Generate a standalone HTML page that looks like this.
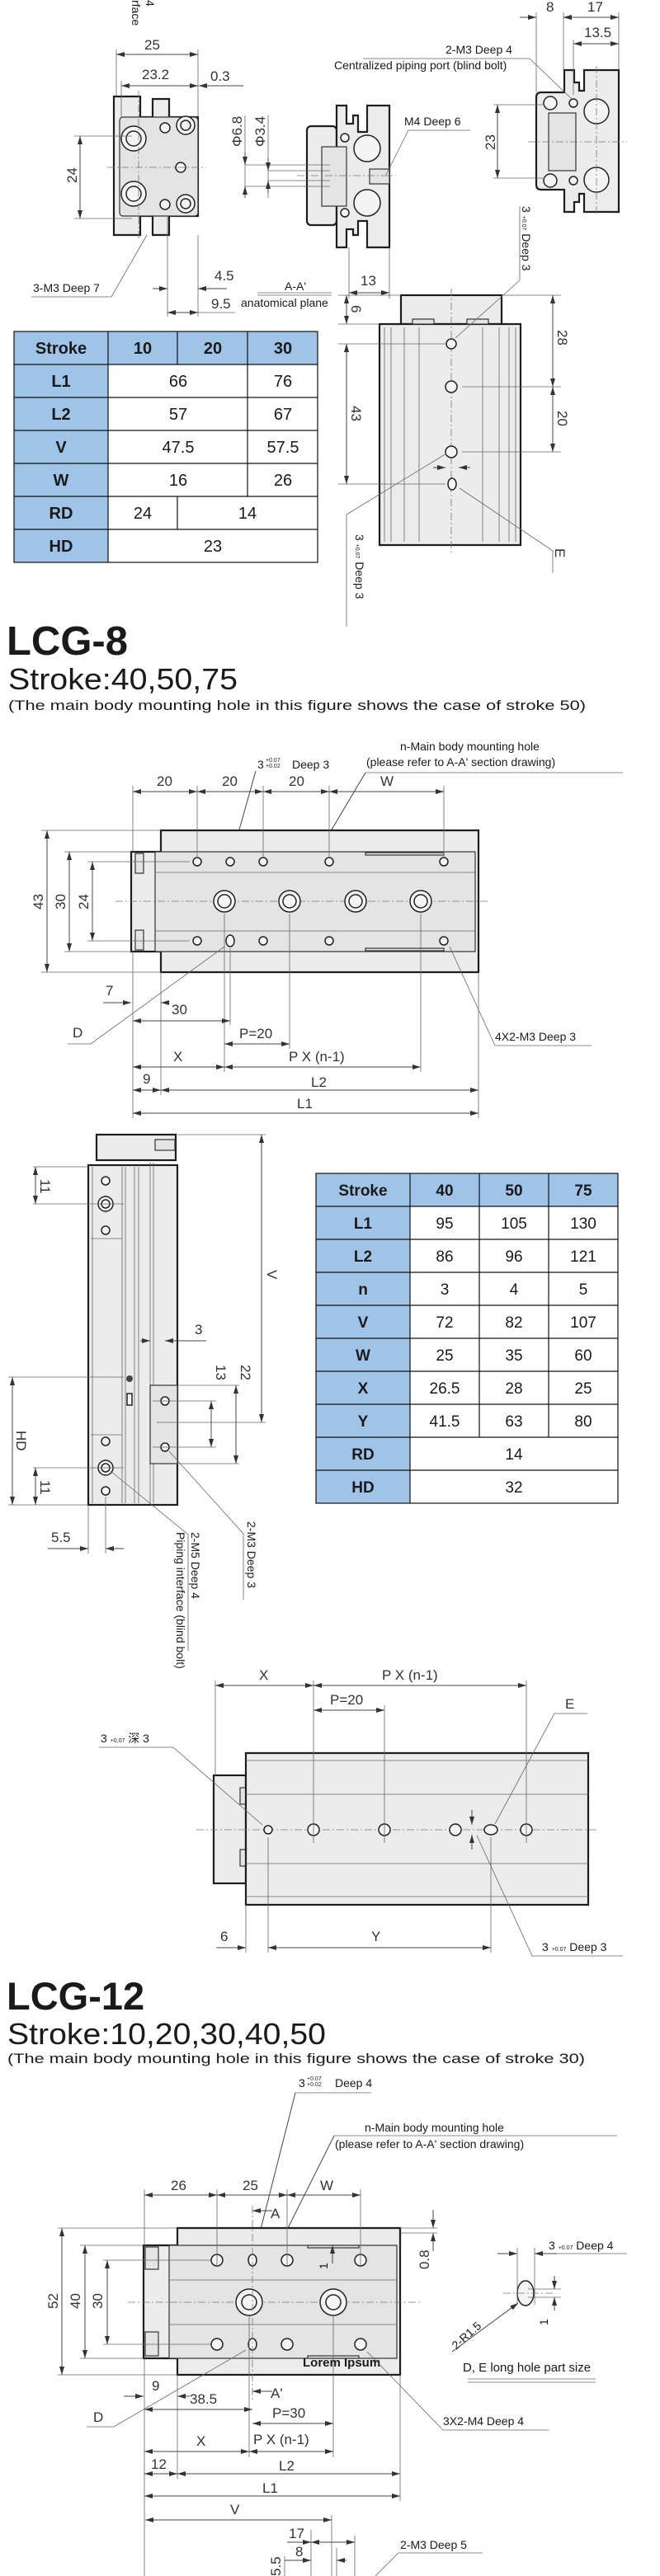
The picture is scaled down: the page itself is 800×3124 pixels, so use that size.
<!DOCTYPE html>
<html><head><meta charset="utf-8"><style>
html,body{margin:0;padding:0;background:#fff}
svg{display:block}
text{font-family:"Liberation Sans","Noto Sans CJK SC",sans-serif;fill:#1a1a1a}
.d{stroke:#444;stroke-width:1;fill:none;marker-start:url(#a);marker-end:url(#a)}
.e{stroke:#444;stroke-width:1;fill:none;marker-end:url(#a)}
.t{stroke:#666;stroke-width:.8;fill:none}
.b{fill:#ececec;stroke:#1e1e1e;stroke-width:2.2}
.i{fill:#e4e4e4;stroke:#333;stroke-width:1.2}
.c{stroke:#777;stroke-width:.8;stroke-dasharray:9 3 2 3;fill:none}
.h{fill:#f4f4f4;stroke:#222;stroke-width:1.5}
.l{font-size:17px;fill:#333}
.s{font-size:14px}
.tb{stroke:#111;stroke-width:1.2}
</style></head><body>
<svg width="800" height="3124" viewBox="0 0 800 3124" xmlns="http://www.w3.org/2000/svg">
<defs><marker id="a" viewBox="0 0 10 6" refX="10" refY="3" markerWidth="10" markerHeight="6" markerUnits="userSpaceOnUse" orient="auto-start-reverse"><path d="M0,0L10,3L0,6z" fill="#333"/></marker></defs>

<!-- ===== Section 1 ===== -->
<text transform="translate(160,0) rotate(90)" class="s">rface</text>
<text transform="translate(177,0) rotate(90)" class="s">4</text>

<!-- left end view -->
<path class="b" d="M138,117 H170 V142 H185 V120 H205 V142 H240 V262 H205 V285 H185 V262 H170 V285 H138 Z"/>
<rect class="i" x="145" y="142" width="95" height="120" rx="4"/>
<circle class="h" cx="162" cy="168" r="15"/><circle class="h" cx="162" cy="168" r="9"/>
<circle class="h" cx="162" cy="235" r="15"/><circle class="h" cx="162" cy="235" r="9"/>
<circle class="h" cx="225" cy="152" r="11"/><circle class="h" cx="225" cy="152" r="6"/>
<circle class="h" cx="225" cy="247" r="11"/><circle class="h" cx="225" cy="247" r="6"/>
<circle class="h" cx="200" cy="155" r="6"/><circle class="h" cx="219" cy="203" r="6"/><circle class="h" cx="200" cy="248" r="6"/>
<line class="c" x1="130" y1="203" x2="250" y2="203"/><line class="c" x1="168" y1="110" x2="168" y2="290"/>
<line class="t" x1="141" y1="60" x2="141" y2="117"/><line class="t" x1="240" y1="60" x2="240" y2="142"/><line class="t" x1="147" y1="98" x2="147" y2="142"/>
<line class="d" x1="141" y1="66" x2="240" y2="66"/><text x="175" y="60" class="l">25</text>
<line class="d" x1="147" y1="104" x2="240" y2="104"/><text x="172" y="96" class="l">23.2</text>
<line class="e" x1="295" y1="104" x2="241" y2="104"/><text x="255" y="98" class="l">0.3</text>
<line class="t" x1="90" y1="165" x2="160" y2="165"/><line class="t" x1="90" y1="265" x2="160" y2="265"/>
<line class="d" x1="97" y1="165" x2="97" y2="265"/><text transform="translate(93,222) rotate(-90)" class="l">24</text>
<line class="t" x1="203" y1="262" x2="203" y2="384"/><line class="t" x1="240" y1="285" x2="240" y2="384"/>
<line class="e" x1="185" y1="350" x2="203" y2="350"/><line class="e" x1="275" y1="350" x2="240" y2="350"/><text x="260" y="340" class="l">4.5</text>
<line class="d" x1="203" y1="379" x2="240" y2="379"/><line class="t" x1="240" y1="379" x2="285" y2="379"/><text x="256" y="374" class="l">9.5</text>
<text x="40" y="354" class="s">3-M3 Deep 7</text><polyline class="t" points="38,360 135,360 178,285"/>
<text x="345" y="352" class="s">A-A'</text><line class="t" x1="312" y1="355" x2="402" y2="355"/><line class="t" x1="312" y1="358" x2="402" y2="358"/>
<text x="292" y="372" class="s">anatomical plane</text>

<!-- middle view -->
<rect class="b" x="372" y="153" width="36" height="120" rx="5"/>
<path class="b" d="M408,128 H420 V150 H428 V140 H434 V160 H445 V128 H472 V300 H445 V268 H434 V285 H428 V278 H420 V300 H408 Z"/>
<rect class="i" x="390" y="178" width="30" height="72"/>
<circle class="h" cx="445" cy="180" r="16"/><circle class="h" cx="445" cy="246" r="16"/>
<circle class="h" cx="418" cy="167" r="5"/><circle class="h" cx="418" cy="258" r="5"/>
<rect class="i" x="448" y="205" width="24" height="18"/>
<line class="c" x1="360" y1="213" x2="480" y2="213"/>
<line class="t" x1="297" y1="200" x2="400" y2="200"/><line class="t" x1="297" y1="226" x2="400" y2="226"/>
<line class="t" x1="325" y1="207" x2="400" y2="207"/><line class="t" x1="325" y1="219" x2="400" y2="219"/>
<line class="t" x1="297" y1="140" x2="297" y2="240"/><line class="t" x1="325" y1="140" x2="325" y2="240"/>
<line class="e" x1="297" y1="185" x2="297" y2="200"/><line class="e" x1="297" y1="240" x2="297" y2="226"/>
<line class="e" x1="325" y1="192" x2="325" y2="207"/><line class="e" x1="325" y1="234" x2="325" y2="219"/>
<text transform="translate(293,178) rotate(-90)" class="l">Φ6.8</text>
<text transform="translate(321,178) rotate(-90)" class="l">Φ3.4</text>
<text x="490" y="152" class="s">M4 Deep 6</text><polyline class="t" points="570,158 495,158 468,212"/>
<line class="t" x1="423" y1="300" x2="423" y2="362"/><line class="t" x1="472" y1="300" x2="472" y2="362"/>
<line class="d" x1="423" y1="355" x2="472" y2="355"/><text x="437" y="346" class="l">13</text>

<!-- right view -->
<path class="b" d="M650,118 Q650,112 656,112 H684 V85 H696 V100 H702 V110 H708 V85 H750 V257 H708 V235 H702 V245 H696 V257 H684 V230 H656 Q650,230 650,224 Z"/>
<rect class="i" x="665" y="137" width="33" height="70"/>
<circle class="h" cx="723" cy="135" r="15"/><circle class="h" cx="723" cy="218" r="15"/>
<circle class="h" cx="667" cy="125" r="8"/><circle class="h" cx="667" cy="219" r="8"/>
<circle class="h" cx="695" cy="125" r="5"/><circle class="h" cx="695" cy="219" r="5"/>
<line class="c" x1="640" y1="172" x2="760" y2="172"/><line class="c" x1="723" y1="80" x2="723" y2="262"/>
<line class="t" x1="650" y1="15" x2="650" y2="112"/><line class="t" x1="683" y1="15" x2="683" y2="85"/><line class="t" x1="750" y1="15" x2="750" y2="85"/><line class="t" x1="695" y1="48" x2="695" y2="115"/>
<line class="e" x1="630" y1="21" x2="650" y2="21"/><line class="d" x1="683" y1="21" x2="750" y2="21"/><line class="e" x1="700" y1="21" x2="683" y2="21"/>
<text x="662" y="14" class="l">8</text><text x="712" y="14" class="l">17</text>
<line class="d" x1="695" y1="53" x2="750" y2="53"/><text x="708" y="45" class="l">13.5</text>
<line class="t" x1="598" y1="127" x2="660" y2="127"/><line class="t" x1="598" y1="216" x2="660" y2="216"/>
<line class="d" x1="603" y1="127" x2="603" y2="216"/><text transform="translate(600,182) rotate(-90)" class="l">23</text>
<text x="540" y="65" class="s">2-M3 Deep 4</text><text x="405" y="84" class="s">Centralized piping port (blind bolt)</text>
<polyline class="t" points="440,71 642,71 693,120"/>

<!-- bottom view -->
<rect class="b" x="486" y="358" width="122" height="35"/>
<path class="b" d="M460,393 H631 V661 H460 Z"/>
<g class="t"><line x1="466" y1="397" x2="466" y2="657"/><line x1="474" y1="397" x2="474" y2="657"/><line x1="490" y1="397" x2="490" y2="657"/><line x1="508" y1="397" x2="508" y2="657"/><line x1="585" y1="397" x2="585" y2="657"/><line x1="605" y1="397" x2="605" y2="657"/><line x1="617" y1="397" x2="617" y2="657"/><line x1="625" y1="397" x2="625" y2="657"/></g>
<rect class="i" x="500" y="387" width="26" height="6"/><rect class="i" x="566" y="387" width="26" height="6"/>
<line class="c" x1="547" y1="350" x2="547" y2="670"/>
<circle class="h" cx="547" cy="417" r="6"/><circle class="h" cx="547" cy="469" r="7"/><circle class="h" cx="547" cy="548" r="7"/><ellipse class="h" cx="548" cy="587" rx="5" ry="7"/>
<line class="t" x1="410" y1="358" x2="486" y2="358"/><line class="t" x1="410" y1="393" x2="460" y2="393"/><line class="t" x1="410" y1="417" x2="540" y2="417"/><line class="t" x1="410" y1="587" x2="540" y2="587"/>
<line class="t" x1="608" y1="358" x2="680" y2="358"/><line class="t" x1="560" y1="469" x2="680" y2="469"/><line class="t" x1="560" y1="548" x2="680" y2="548"/>
<line class="d" x1="420" y1="358" x2="420" y2="393"/><text transform="translate(426,370) rotate(90)" class="l">6</text>
<line class="d" x1="420" y1="417" x2="420" y2="587"/><text transform="translate(426,492) rotate(90)" class="l">43</text>
<line class="d" x1="670" y1="358" x2="670" y2="469"/><text transform="translate(676,400) rotate(90)" class="l">28</text>
<line class="d" x1="670" y1="469" x2="670" y2="548"/><text transform="translate(676,498) rotate(90)" class="l">20</text>
<line class="e" x1="525" y1="567" x2="540" y2="567"/><line class="e" x1="570" y1="567" x2="556" y2="567"/>
<text transform="translate(633,250) rotate(90)" class="s">3 <tspan font-size="7">+0.07</tspan> Deep 3</text>
<polyline class="t" points="630,250 630,340 552,410"/>
<text transform="translate(431,648) rotate(90)" class="s">3 <tspan font-size="7">+0.07</tspan> Deep 3</text>
<polyline class="t" points="420,760 420,624 541,550"/>
<text transform="translate(673,665) rotate(90)" class="l">E</text>
<polyline class="t" points="670,695 670,668 557,592"/>

<!-- table 1 -->
<g>
<rect x="17" y="402" width="114" height="280" fill="#9fc4e8"/>
<rect x="131" y="402" width="254" height="40" fill="#9fc4e8"/>
<rect x="17" y="402" width="368" height="280" fill="none" class="tb"/>
<g class="tb"><line x1="17" y1="442" x2="385" y2="442"/><line x1="17" y1="482" x2="385" y2="482"/><line x1="17" y1="522" x2="385" y2="522"/><line x1="17" y1="562" x2="385" y2="562"/><line x1="17" y1="602" x2="385" y2="602"/><line x1="17" y1="642" x2="385" y2="642"/>
<line x1="131" y1="402" x2="131" y2="682"/><line x1="215" y1="402" x2="215" y2="442"/><line x1="215" y1="602" x2="215" y2="642"/><line x1="300" y1="402" x2="300" y2="602"/></g>
<g font-size="20" text-anchor="middle" font-weight="bold">
<text x="74" y="429">Stroke</text><text x="173" y="429">10</text><text x="258" y="429">20</text><text x="343" y="429">30</text>
<text x="74" y="469">L1</text><text x="74" y="509">L2</text><text x="74" y="549">V</text><text x="74" y="589">W</text><text x="74" y="629">RD</text><text x="74" y="669">HD</text></g>
<g font-size="20" text-anchor="middle">
<text x="216" y="469">66</text><text x="343" y="469">76</text><text x="216" y="509">57</text><text x="343" y="509">67</text>
<text x="216" y="549">47.5</text><text x="343" y="549">57.5</text><text x="216" y="589">16</text><text x="343" y="589">26</text>
<text x="173" y="629">24</text><text x="300" y="629">14</text><text x="258" y="669">23</text></g>
</g>

<!-- ===== LCG-8 ===== -->
<text x="8" y="794" font-size="49" font-weight="bold" fill="#111">LCG-8</text>
<text x="10" y="836" font-size="36" textLength="278" lengthAdjust="spacingAndGlyphs">Stroke:40,50,75</text>
<text x="10" y="861" font-size="17" textLength="700" lengthAdjust="spacingAndGlyphs">(The main body mounting hole in this figure shows the case of stroke 50)</text>

<text x="312" y="932" class="s">3</text><text x="322" y="924" font-size="7">+0.07</text><text x="322" y="931" font-size="7">+0.02</text><text x="354" y="932" class="s">Deep 3</text>
<text x="485" y="910" class="s">n-Main body mounting hole</text><text x="444" y="929" class="s">(please refer to A-A' section drawing)</text>
<line class="t" x1="443" y1="937" x2="755" y2="937"/>
<line class="e" x1="310" y1="935" x2="281" y2="1038"/><line class="e" x1="443" y1="937" x2="357" y2="1082"/>

<path class="b" d="M195,1007 H580 V1179 H195 Z"/>
<rect class="b" x="159" y="1033" width="36" height="121"/>
<rect class="i" x="188" y="1033" width="388" height="121"/>
<line class="t" x1="188" y1="1058" x2="576" y2="1058"/><line class="t" x1="188" y1="1129" x2="576" y2="1129"/>
<rect class="i" x="164" y="1035" width="10" height="24"/><rect class="i" x="164" y="1128" width="10" height="24"/>
<rect class="i" x="443" y="1034" width="95" height="3"/><rect class="i" x="443" y="1150" width="95" height="3"/>
<line class="c" x1="140" y1="1093" x2="592" y2="1093"/>
<g class="h">
<circle cx="239" cy="1045" r="5"/><circle cx="279" cy="1045" r="5"/><circle cx="319" cy="1045" r="5"/><circle cx="399" cy="1045" r="5"/><circle cx="538" cy="1045" r="5"/>
<circle cx="239" cy="1141" r="5"/><ellipse cx="279" cy="1141" rx="5" ry="7"/><circle cx="319" cy="1141" r="5"/><circle cx="399" cy="1141" r="5"/><circle cx="538" cy="1141" r="5"/>
<circle cx="272" cy="1093" r="13"/><circle cx="272" cy="1093" r="8"/><circle cx="351" cy="1093" r="13"/><circle cx="351" cy="1093" r="8"/>
<circle cx="431" cy="1093" r="13"/><circle cx="431" cy="1093" r="8"/><circle cx="510" cy="1093" r="13"/><circle cx="510" cy="1093" r="8"/></g>
<g class="t"><line x1="161" y1="953" x2="161" y2="1033"/><line x1="239" y1="953" x2="239" y2="1040"/><line x1="319" y1="953" x2="319" y2="1040"/><line x1="399" y1="953" x2="399" y2="1040"/><line x1="538" y1="953" x2="538" y2="1040"/>
<line x1="50" y1="1007" x2="195" y2="1007"/><line x1="78" y1="1033" x2="159" y2="1033"/><line x1="106" y1="1045" x2="230" y2="1045"/><line x1="106" y1="1141" x2="230" y2="1141"/><line x1="78" y1="1154" x2="159" y2="1154"/><line x1="50" y1="1179" x2="195" y2="1179"/>
<line x1="161" y1="1154" x2="161" y2="1356"/><line x1="195" y1="1179" x2="195" y2="1328"/><line x1="580" y1="1179" x2="580" y2="1356"/><line x1="279" y1="1150" x2="279" y2="1243"/><line x1="272" y1="1108" x2="272" y2="1300"/><line x1="351" y1="1108" x2="351" y2="1272"/><line x1="510" y1="1108" x2="510" y2="1300"/></g>
<line class="d" x1="161" y1="960" x2="239" y2="960"/><line class="d" x1="239" y1="960" x2="319" y2="960"/><line class="d" x1="319" y1="960" x2="399" y2="960"/><line class="d" x1="399" y1="960" x2="538" y2="960"/>
<text x="190" y="953" class="l">20</text><text x="269" y="953" class="l">20</text><text x="350" y="953" class="l">20</text><text x="461" y="953" class="l">W</text>
<line class="d" x1="57" y1="1007" x2="57" y2="1179"/><text transform="translate(52,1103) rotate(-90)" class="l">43</text>
<line class="d" x1="84" y1="1033" x2="84" y2="1154"/><text transform="translate(79,1103) rotate(-90)" class="l">30</text>
<line class="d" x1="112" y1="1045" x2="112" y2="1141"/><text transform="translate(107,1103) rotate(-90)" class="l">24</text>
<line class="e" x1="125" y1="1216" x2="159" y2="1216"/><line class="e" x1="205" y1="1216" x2="195" y2="1216"/><text x="128" y="1207" class="l">7</text>
<line class="d" x1="161" y1="1238" x2="279" y2="1238"/><text x="208" y="1230" class="l">30</text>
<text x="88" y="1258" class="l">D</text><polyline class="t" points="82,1266 110,1266 272,1148"/>
<line class="d" x1="272" y1="1266" x2="351" y2="1266"/><text x="290" y="1259" class="l">P=20</text>
<line class="d" x1="161" y1="1294" x2="272" y2="1294"/><text x="210" y="1287" class="l">X</text>
<line class="d" x1="272" y1="1294" x2="510" y2="1294"/><text x="350" y="1287" class="l">P X (n-1)</text>
<line class="d" x1="161" y1="1322" x2="195" y2="1322"/><text x="173" y="1314" class="l">9</text>
<line class="d" x1="195" y1="1322" x2="580" y2="1322"/><text x="377" y="1318" class="l">L2</text>
<line class="d" x1="161" y1="1350" x2="580" y2="1350"/><text x="360" y="1344" class="l">L1</text>
<text x="600" y="1262" class="s">4X2-M3 Deep 3</text><polyline class="t" points="717,1268 600,1268 545,1148"/>

<!-- side view -->
<rect class="b" x="117" y="1376" width="96" height="31"/><rect class="i" x="188" y="1382" width="24" height="13"/>
<rect class="b" x="107" y="1413" width="108" height="412"/>
<g class="t"><line x1="112" y1="1415" x2="112" y2="1823"/><line x1="148" y1="1415" x2="148" y2="1823"/><line x1="152" y1="1415" x2="152" y2="1823"/><line x1="163" y1="1415" x2="163" y2="1823"/><line x1="168" y1="1415" x2="168" y2="1823"/><line x1="182" y1="1410" x2="182" y2="1823"/><line x1="186" y1="1410" x2="186" y2="1823"/>
<line x1="110" y1="1502" x2="148" y2="1502"/><line x1="110" y1="1740" x2="148" y2="1740"/></g>
<rect class="i" x="182" y="1680" width="33" height="95"/>
<g class="h"><circle cx="128" cy="1432" r="5"/><circle cx="128" cy="1460" r="9"/><circle cx="128" cy="1460" r="5"/><circle cx="128" cy="1492" r="5"/>
<circle cx="128" cy="1748" r="5"/><circle cx="128" cy="1780" r="9"/><circle cx="128" cy="1780" r="5"/><circle cx="128" cy="1808" r="5"/>
<circle cx="200" cy="1699" r="5"/><circle cx="200" cy="1755" r="5"/><rect x="154" y="1690" width="6" height="14"/></g>
<circle cx="157" cy="1672" r="4" fill="#444"/>
<g class="t"><line x1="215" y1="1376" x2="322" y2="1376"/><line x1="190" y1="1725" x2="322" y2="1725"/><line x1="40" y1="1415" x2="107" y2="1415"/><line x1="40" y1="1460" x2="150" y2="1460"/><line x1="40" y1="1780" x2="150" y2="1780"/><line x1="10" y1="1825" x2="107" y2="1825"/><line x1="10" y1="1670" x2="150" y2="1670"/>
<line x1="215" y1="1680" x2="290" y2="1680"/><line x1="185" y1="1699" x2="262" y2="1699"/><line x1="185" y1="1755" x2="262" y2="1755"/><line x1="215" y1="1775" x2="290" y2="1775"/>
<line x1="107" y1="1825" x2="107" y2="1884"/><line x1="128" y1="1815" x2="128" y2="1884"/></g>
<line class="d" x1="317" y1="1376" x2="317" y2="1725"/><text transform="translate(324,1540) rotate(90)" class="l">V</text>
<line class="d" x1="43" y1="1415" x2="43" y2="1460"/><text transform="translate(49,1430) rotate(90)" class="l">11</text>
<line class="d" x1="43" y1="1780" x2="43" y2="1825"/><text transform="translate(49,1795) rotate(90)" class="l">11</text>
<line class="d" x1="15" y1="1670" x2="15" y2="1825"/><text transform="translate(20,1735) rotate(90)" class="l">HD</text>
<line class="e" x1="170" y1="1626" x2="182" y2="1626"/><line class="e" x1="250" y1="1626" x2="200" y2="1626"/><text x="236" y="1618" class="l">3</text>
<line class="d" x1="256" y1="1699" x2="256" y2="1755"/><text transform="translate(262,1655) rotate(90)" class="l">13</text>
<line class="d" x1="286" y1="1680" x2="286" y2="1775"/><text transform="translate(292,1655) rotate(90)" class="l">22</text>
<line class="e" x1="58" y1="1878" x2="107" y2="1878"/><line class="e" x1="150" y1="1878" x2="128" y2="1878"/><text x="62" y="1870" class="l">5.5</text>
<polyline class="t" points="228,2002 228,1861 134,1784"/>
<polyline class="t" points="295,1940 295,1860 205,1760"/>
<text transform="translate(232,1858) rotate(90)" class="s">2-M5 Deep 4</text>
<text transform="translate(214,1858) rotate(90)" class="s">Piping interface (blind bolt)</text>
<text transform="translate(300,1845) rotate(90)" class="s">2-M3 Deep 3</text>

<!-- table 2 -->
<g>
<rect x="383" y="1423" width="114" height="400" fill="#9fc4e8"/>
<rect x="497" y="1423" width="252" height="40" fill="#9fc4e8"/>
<rect x="383" y="1423" width="366" height="400" fill="none" class="tb"/>
<g class="tb"><line x1="383" y1="1463" x2="749" y2="1463"/><line x1="383" y1="1503" x2="749" y2="1503"/><line x1="383" y1="1543" x2="749" y2="1543"/><line x1="383" y1="1583" x2="749" y2="1583"/><line x1="383" y1="1623" x2="749" y2="1623"/><line x1="383" y1="1663" x2="749" y2="1663"/><line x1="383" y1="1703" x2="749" y2="1703"/><line x1="383" y1="1743" x2="749" y2="1743"/><line x1="383" y1="1783" x2="749" y2="1783"/>
<line x1="497" y1="1423" x2="497" y2="1823"/><line x1="581" y1="1423" x2="581" y2="1743"/><line x1="665" y1="1423" x2="665" y2="1743"/></g>
<g font-size="19" text-anchor="middle" font-weight="bold">
<text x="440" y="1450">Stroke</text><text x="539" y="1450">40</text><text x="623" y="1450">50</text><text x="707" y="1450">75</text>
<text x="440" y="1490">L1</text><text x="440" y="1530">L2</text><text x="440" y="1570">n</text><text x="440" y="1610">V</text><text x="440" y="1650">W</text><text x="440" y="1690">X</text><text x="440" y="1730">Y</text><text x="440" y="1770">RD</text><text x="440" y="1810">HD</text></g>
<g font-size="19" text-anchor="middle">
<text x="539" y="1490">95</text><text x="623" y="1490">105</text><text x="707" y="1490">130</text>
<text x="539" y="1530">86</text><text x="623" y="1530">96</text><text x="707" y="1530">121</text>
<text x="539" y="1570">3</text><text x="623" y="1570">4</text><text x="707" y="1570">5</text>
<text x="539" y="1610">72</text><text x="623" y="1610">82</text><text x="707" y="1610">107</text>
<text x="539" y="1650">25</text><text x="623" y="1650">35</text><text x="707" y="1650">60</text>
<text x="539" y="1690">26.5</text><text x="623" y="1690">28</text><text x="707" y="1690">25</text>
<text x="539" y="1730">41.5</text><text x="623" y="1730">63</text><text x="707" y="1730">80</text>
<text x="623" y="1770">14</text><text x="623" y="1810">32</text></g>
</g>

<!-- bottom view LCG-8 -->
<rect class="b" x="259" y="2153" width="39" height="131"/>
<rect class="i" x="291" y="2168" width="7" height="20"/><rect class="i" x="291" y="2243" width="7" height="20"/>
<path class="b" d="M298,2126 H713 V2310 H298 Z"/>
<g class="t"><line x1="298" y1="2135" x2="713" y2="2135"/><line x1="298" y1="2300" x2="713" y2="2300"/><line x1="298" y1="2176" x2="713" y2="2176"/><line x1="298" y1="2260" x2="713" y2="2260"/></g>
<line class="c" x1="238" y1="2219" x2="725" y2="2219"/>
<g class="h"><circle cx="325" cy="2219" r="5"/><circle cx="380" cy="2219" r="7"/><circle cx="466" cy="2219" r="7"/><circle cx="552" cy="2219" r="7"/><ellipse cx="595" cy="2219" rx="8" ry="6"/><circle cx="638" cy="2219" r="7"/></g>
<g class="t"><line x1="261" y1="2038" x2="261" y2="2153"/><line x1="380" y1="2038" x2="380" y2="2235"/><line x1="466" y1="2068" x2="466" y2="2235"/><line x1="638" y1="2038" x2="638" y2="2235"/>
<line x1="298" y1="2310" x2="298" y2="2368"/><line x1="325" y1="2228" x2="325" y2="2368"/><line x1="595" y1="2228" x2="595" y2="2368"/></g>
<line class="d" x1="261" y1="2044" x2="380" y2="2044"/><text x="314" y="2037" class="l">X</text>
<line class="d" x1="380" y1="2044" x2="638" y2="2044"/><text x="463" y="2037" class="l">P X (n-1)</text>
<line class="d" x1="380" y1="2074" x2="466" y2="2074"/><text x="400" y="2067" class="l">P=20</text>
<line class="e" x1="262" y1="2362" x2="298" y2="2362"/><text x="267" y="2354" class="l">6</text>
<line class="d" x1="325" y1="2362" x2="595" y2="2362"/><text x="450" y="2354" class="l">Y</text>
<line class="e" x1="572" y1="2195" x2="572" y2="2213"/><line class="e" x1="572" y1="2243" x2="572" y2="2225"/>
<text x="122" y="2113" class="s">3 <tspan font-size="7">+0.07</tspan> 深 3</text><polyline class="t" points="120,2119 210,2119 318,2213"/>
<text x="685" y="2072" class="l">E</text><polyline class="t" points="712,2078 672,2078 600,2212"/>
<text x="657" y="2366" class="s">3 <tspan font-size="7">+0.07</tspan> Deep 3</text><polyline class="t" points="755,2372 645,2372 578,2226"/>

<!-- ===== LCG-12 ===== -->
<text x="8" y="2437" font-size="47" font-weight="bold" fill="#111">LCG-12</text>
<text x="9" y="2479" font-size="36" textLength="386" lengthAdjust="spacingAndGlyphs">Stroke:10,20,30,40,50</text>
<text x="9" y="2502" font-size="17" textLength="700" lengthAdjust="spacingAndGlyphs">(The main body mounting hole in this figure shows the case of stroke 30)</text>

<text x="362" y="2531" class="s">3</text><text x="372" y="2523" font-size="7">+0.07</text><text x="372" y="2530" font-size="7">+0.02</text><text x="406" y="2531" class="s">Deep 4</text>
<line class="t" x1="358" y1="2538" x2="450" y2="2538"/><line class="e" x1="358" y1="2538" x2="308" y2="2735"/>
<text x="442" y="2585" class="s">n-Main body mounting hole</text><text x="406" y="2605" class="s">(please refer to A-A' section drawing)</text>
<line class="t" x1="405" y1="2590" x2="748" y2="2590"/><line class="e" x1="405" y1="2590" x2="310" y2="2780"/>

<path class="b" d="M174,2723 H215 V2702 H485 V2880 H215 V2860 H174 Z"/>
<rect class="i" x="205" y="2723" width="276" height="137"/>
<line class="t" x1="205" y1="2765" x2="481" y2="2765"/><line class="t" x1="205" y1="2819" x2="481" y2="2819"/>
<rect class="i" x="176" y="2725" width="16" height="27"/><rect class="i" x="176" y="2828" width="16" height="29"/>
<rect class="i" x="373" y="2723" width="62" height="3"/><rect class="i" x="373" y="2857" width="62" height="3"/>
<line class="c" x1="155" y1="2792" x2="512" y2="2792"/>
<g class="h"><circle cx="263" cy="2741" r="7"/><ellipse cx="306" cy="2741" rx="5" ry="7"/><circle cx="348" cy="2741" r="7"/><circle cx="437" cy="2741" r="7"/>
<circle cx="263" cy="2843" r="7"/><ellipse cx="306" cy="2843" rx="5" ry="7"/><circle cx="348" cy="2843" r="7"/><circle cx="437" cy="2843" r="7"/>
<circle cx="302" cy="2792" r="16"/><circle cx="302" cy="2792" r="9"/><circle cx="404" cy="2792" r="16"/><circle cx="404" cy="2792" r="9"/></g>
<g class="t"><line x1="175" y1="2655" x2="175" y2="2723"/><line x1="263" y1="2655" x2="263" y2="2748"/><line x1="348" y1="2655" x2="348" y2="2748"/><line x1="437" y1="2655" x2="437" y2="2748"/>
<line x1="70" y1="2702" x2="215" y2="2702"/><line x1="97" y1="2723" x2="174" y2="2723"/><line x1="125" y1="2741" x2="255" y2="2741"/><line x1="125" y1="2843" x2="255" y2="2843"/><line x1="97" y1="2860" x2="174" y2="2860"/><line x1="70" y1="2880" x2="215" y2="2880"/>
<line x1="175" y1="2860" x2="175" y2="3124"/><line x1="215" y1="2880" x2="215" y2="3006"/><line x1="485" y1="2880" x2="485" y2="3033"/><line x1="302" y1="2808" x2="302" y2="2980"/><line x1="404" y1="2808" x2="404" y2="2980"/>
<line x1="402" y1="3050" x2="402" y2="3124"/><line x1="377" y1="3068" x2="377" y2="3124"/><line x1="430" y1="3075" x2="430" y2="3124"/><line x1="408" y1="3090" x2="408" y2="3124"/><line x1="345" y1="3100" x2="345" y2="3124"/>
<line x1="485" y1="2702" x2="530" y2="2702"/><line x1="485" y1="2708" x2="530" y2="2708"/></g>
<line class="c" x1="306" y1="2675" x2="306" y2="2910"/>
<line class="d" x1="175" y1="2662" x2="263" y2="2662"/><line class="d" x1="263" y1="2662" x2="348" y2="2662"/><line class="d" x1="348" y1="2662" x2="437" y2="2662"/>
<text x="207" y="2656" class="l">26</text><text x="294" y="2656" class="l">25</text><text x="388" y="2656" class="l">W</text>
<line class="e" x1="330" y1="2681" x2="306" y2="2681"/><text x="328" y="2690" class="l">A</text>
<line class="e" x1="330" y1="2900" x2="306" y2="2900"/><text x="328" y="2908" class="l">A'</text>
<line class="d" x1="75" y1="2702" x2="75" y2="2880"/><text transform="translate(70,2800) rotate(-90)" class="l">52</text>
<line class="d" x1="103" y1="2723" x2="103" y2="2860"/><text transform="translate(97,2800) rotate(-90)" class="l">40</text>
<line class="d" x1="130" y1="2741" x2="130" y2="2843"/><text transform="translate(124,2800) rotate(-90)" class="l">30</text>
<line class="e" x1="525" y1="2680" x2="525" y2="2702"/><line class="e" x1="525" y1="2730" x2="525" y2="2708"/>
<text transform="translate(520,2752) rotate(-90)" class="l">0.8</text>
<line class="e" x1="403" y1="2745" x2="403" y2="2723"/><text transform="translate(397,2752) rotate(-90)" class="s">1</text>
<!-- slot detail -->
<ellipse class="h" cx="637" cy="2781" rx="10" ry="15"/>
<line class="c" x1="610" y1="2781" x2="672" y2="2781"/>
<g class="t"><line x1="627" y1="2726" x2="627" y2="2795"/><line x1="648" y1="2726" x2="648" y2="2795"/><line x1="640" y1="2776" x2="680" y2="2776"/><line x1="640" y1="2786" x2="680" y2="2786"/></g>
<line class="e" x1="603" y1="2733" x2="627" y2="2733"/><line class="e" x1="675" y1="2733" x2="648" y2="2733"/><line class="t" x1="675" y1="2733" x2="760" y2="2733"/>
<text x="665" y="2728" class="s">3 <tspan font-size="7">+0.07</tspan> Deep 4</text>
<line class="e" x1="672" y1="2760" x2="672" y2="2776"/><line class="e" x1="672" y1="2802" x2="672" y2="2786"/>
<text transform="translate(664,2820) rotate(-90)" class="s">1</text>
<text transform="translate(553,2850) rotate(-42)" class="s">2-R1.5</text>
<line class="e" x1="548" y1="2852" x2="628" y2="2793"/>
<text x="561" y="2876" font-size="15">D, E long hole part size</text>
<line class="t" x1="567" y1="2885" x2="722" y2="2885"/><line class="t" x1="567" y1="2889" x2="722" y2="2889"/>
<text x="367" y="2870" font-size="15" font-weight="bold">Lorem Ipsum</text>
<line class="e" x1="150" y1="2906" x2="174" y2="2906"/><line class="e" x1="230" y1="2906" x2="215" y2="2906"/><text x="184" y="2899" class="l">9</text>
<line class="d" x1="175" y1="2922" x2="306" y2="2922"/><text x="230" y="2915" class="l">38.5</text>
<text x="113" y="2937" class="l">D</text><polyline class="t" points="105,2943 138,2943 298,2850"/>
<line class="d" x1="306" y1="2939" x2="404" y2="2939"/><text x="330" y="2932" class="l">P=30</text>
<text x="537" y="2941" class="s">3X2-M4 Deep 4</text><polyline class="t" points="665,2947 537,2947 445,2852"/>
<line class="d" x1="175" y1="2973" x2="302" y2="2973"/><text x="238" y="2966" class="l">X</text>
<line class="d" x1="302" y1="2973" x2="404" y2="2973"/><text x="307" y="2964" class="l">P X (n-1)</text>
<line class="d" x1="175" y1="3000" x2="215" y2="3000"/><text x="183" y="2994" class="l">12</text>
<line class="d" x1="215" y1="3000" x2="485" y2="3000"/><text x="338" y="2996" class="l">L2</text>
<line class="d" x1="175" y1="3027" x2="485" y2="3027"/><text x="318" y="3023" class="l">L1</text>
<line class="d" x1="176" y1="3056" x2="402" y2="3056"/><text x="279" y="3049" class="l">V</text>
<line class="e" x1="348" y1="3083" x2="377" y2="3083"/><line class="d" x1="377" y1="3083" x2="430" y2="3083"/><text x="350" y="3078" class="l">17</text>
<line class="e" x1="345" y1="3105" x2="377" y2="3105"/><line class="e" x1="420" y1="3105" x2="408" y2="3105"/><text x="358" y="3100" class="l">8</text>
<text transform="translate(340,3124) rotate(-90)" class="l">5.5</text>
<text x="485" y="3091" class="s">2-M3 Deep 5</text><polyline class="t" points="585,3096 483,3096 455,3124"/>
<text x="45" y="3134" class="s">2-M3 Deep 2.5</text>
</svg>
</body></html>
